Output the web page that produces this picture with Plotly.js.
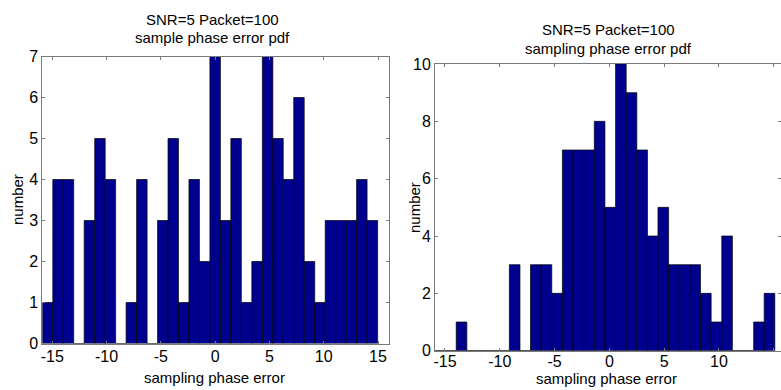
<!DOCTYPE html>
<html>
<head>
<meta charset="utf-8">
<script src="https://cdn.plot.ly/plotly-3.0.1.min.js"></script>
<style>
html,body{margin:0;padding:0;background:#fff;}
#chart{width:781px;height:390px;}
</style>
</head>
<body>
<div id="chart"></div>
<script>
// Left histogram: "sample phase error pdf" (32 bins)
const leftCenters = [-15.44,-14.47,-13.51,-12.54,-11.58,-10.61,-9.65,-8.68,-7.72,-6.75,-5.79,-4.82,-3.86,-2.89,-1.93,-0.96,
                     0.00,0.97,1.93,2.90,3.86,4.83,5.79,6.76,7.72,8.69,9.65,10.62,11.58,12.55,13.51,14.48];
const leftCounts  = [1,4,4,0,3,5,4,0,1,4,0,3,5,1,4,2,7,3,5,1,2,7,5,4,6,2,1,3,3,3,4,3];
const leftBinWidth = 0.965;

// Right histogram: "sampling phase error pdf" (32 bins)
const rightCenters = [-15.43,-14.46,-13.49,-12.52,-11.55,-10.58,-9.61,-8.64,-7.67,-6.71,-5.74,-4.77,-3.80,-2.83,-1.86,-0.89,
                      0.08,1.05,2.02,2.99,3.95,4.92,5.89,6.86,7.83,8.80,9.77,10.74,11.71,12.68,13.65,14.61];
const rightCounts  = [0,0,1,0,0,0,0,3,0,3,3,2,7,7,7,8,5,10,9,7,4,5,3,3,3,2,1,4,0,0,1,2];
const rightBinWidth = 0.969;

const xTicks = [-15,-10,-5,0,5,10,15];
const xTickLabels = ["-15","-10","-5","0","5","10","15"];
const leftYTicks = [0,1,2,3,4,5,6,7];
const rightYTicks = [0,2,4,6,8,10];

const titleLine1 = "SNR=5 Packet=100";
const leftTitleLine2 = "sample phase error pdf";
const rightTitleLine2 = "sampling phase error pdf";
const xTitle = "sampling phase error";
const yTitle = "number";

const W = 781, H = 390;
const px = v => v / W;
const py = v => 1 - v / H;

const barColor = "rgb(0,0,143)";
const fam = "Liberation Sans, Arial, sans-serif";
const tickFont = {family: fam, size: 16, color: "#000"};
const titleFont = {family: fam, size: 15, color: "#000"};
const labelFont = {family: fam, size: 15, color: "#000"};

const traces = [
  {type: "bar", x: leftCenters, y: leftCounts, width: leftBinWidth,
   marker: {color: barColor, line: {color: "#000", width: 0.7}},
   xaxis: "x", yaxis: "y", hoverinfo: "x+y"},
  {type: "bar", x: rightCenters, y: rightCounts, width: rightBinWidth,
   marker: {color: barColor, line: {color: "#000", width: 0.7}},
   xaxis: "x2", yaxis: "y2", hoverinfo: "x+y"}
];

const axBase = {
  showgrid: false, zeroline: false, showline: true, linecolor: "#7a7a7a", linewidth: 1,
  mirror: "ticks", ticks: "inside", ticklen: 3, tickcolor: "#7a7a7a", tickwidth: 1,
  tickfont: tickFont, fixedrange: true
};

const layout = {
  width: W, height: H,
  margin: {l: 0, r: 0, t: 0, b: 0, pad: 0},
  paper_bgcolor: "#fff", plot_bgcolor: "#fff",
  showlegend: false, bargap: 0,
  font: tickFont,
  xaxis: Object.assign({}, axBase, {domain: [px(42.3), px(389.3)], range: [-15.92, 16.04],
          tickmode: "array", tickvals: xTicks, ticktext: xTickLabels, anchor: "y",
          ticklabelstandoff: -2}),
  yaxis: Object.assign({}, axBase, {domain: [py(343.5), py(56.5)], range: [0, 7],
          tickmode: "array", tickvals: leftYTicks, anchor: "x"}),
  xaxis2: Object.assign({}, axBase, {domain: [px(435), 1], range: [-15.91, 15.66],
          tickmode: "array", tickvals: xTicks, ticktext: xTickLabels, anchor: "y2",
          ticklabelstandoff: -4}),
  yaxis2: Object.assign({}, axBase, {domain: [py(350.7), py(64)], range: [0, 10],
          tickmode: "array", tickvals: rightYTicks, anchor: "x2"}),
  annotations: [
    {text: titleLine1, x: px(213), y: py(19), font: titleFont},
    {text: leftTitleLine2, x: px(213), y: py(38), font: titleFont},
    {text: titleLine1, x: px(608), y: py(30), font: titleFont},
    {text: rightTitleLine2, x: px(608), y: py(48), font: titleFont},
    {text: xTitle, x: px(214), y: py(377), font: labelFont},
    {text: xTitle, x: px(606), y: py(378), font: labelFont},
    {text: yTitle, x: px(18), y: py(200), textangle: -90, font: labelFont},
    {text: yTitle, x: px(414), y: py(207), textangle: -90, font: labelFont}
  ].map(a => Object.assign({xref: "paper", yref: "paper", showarrow: false,
                             xanchor: "center", yanchor: "middle"}, a))
};

Plotly.newPlot("chart", traces, layout, {displayModeBar: false, staticPlot: true});
</script>
</body>
</html>
